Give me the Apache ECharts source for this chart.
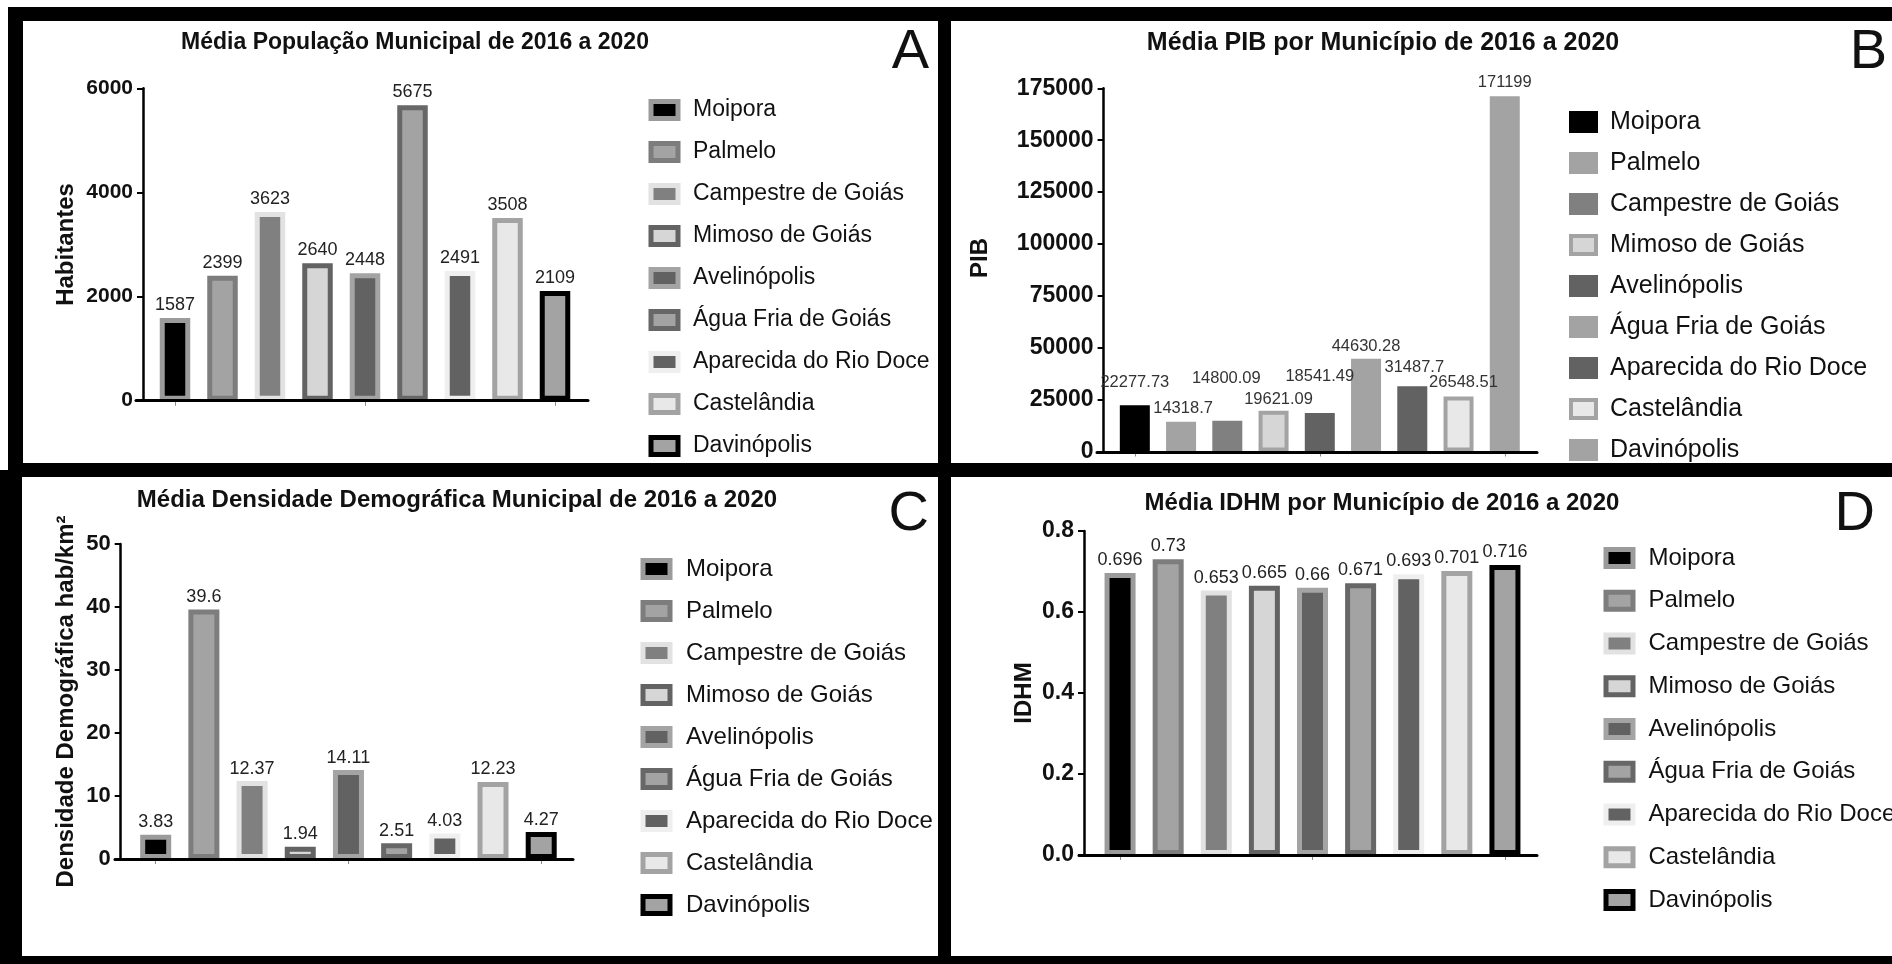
<!DOCTYPE html>
<html lang="pt-BR">
<head>
<meta charset="utf-8">
<title>Indicadores municipais 2016–2020</title>
<script src="https://cdn.jsdelivr.net/npm/echarts@6/dist/echarts.min.js"></script>
<style>
  html, body { margin: 0; padding: 0; background: #000; width: 1892px; height: 964px; overflow: hidden; }
  .painel { position: absolute; background: #fff; }
  #margemTopo { position: absolute; left: 0; top: 0; width: 1892px; height: 7px; background: #fff; }
  #margemEsq { position: absolute; left: 0; top: 0; width: 8px; height: 470px; background: #fff; }
</style>
</head>
<body>
<div id="margemTopo"></div>
<div id="margemEsq"></div>
<div id="pA" class="painel" style="left:23px;top:21px;width:915px;height:442px"></div>
<div id="pB" class="painel" style="left:951px;top:21px;width:941px;height:442px"></div>
<div id="pC" class="painel" style="left:22px;top:477px;width:916px;height:479px"></div>
<div id="pD" class="painel" style="left:951px;top:477px;width:941px;height:479px"></div>
<script>
// Municípios e médias 2016–2020
const municipios = ['Moipora', 'Palmelo', 'Campestre de Goiás', 'Mimoso de Goiás', 'Avelinópolis',
  'Água Fria de Goiás', 'Aparecida do Rio Doce', 'Castelândia', 'Davinópolis'];
const populacao = [1587, 2399, 3623, 2640, 2448, 5675, 2491, 3508, 2109];
const pib = [22277.73, 14318.7, 14800.09, 19621.09, 18541.49, 44630.28, 31487.7, 26548.51, 171199];
const densidade = [3.83, 39.6, 12.37, 1.94, 14.11, 2.51, 4.03, 12.23, 4.27];
const idhm = [0.696, 0.73, 0.653, 0.665, 0.66, 0.671, 0.693, 0.701, 0.716];

// Marcas do eixo Y de cada gráfico
const ticksPopulacao = [0, 2000, 4000, 6000];
const ticksPib = [0, 25000, 50000, 75000, 100000, 125000, 150000, 175000];
const ticksDensidade = [0, 10, 20, 30, 40, 50];
const ticksIdhm = [0, 0.2, 0.4, 0.6, 0.8];

const FONTE = '"Liberation Sans", Arial, Helvetica, sans-serif';

// Paletas em tons de cinza: [preenchimento, borda]
const paletaPadrao = [
  ['#000000', '#9b9b9b'], ['#a3a3a3', '#7d7d7d'], ['#808080', '#e2e2e2'],
  ['#d6d6d6', '#636363'], ['#626262', '#a4a4a4'], ['#a3a3a3', '#676767'],
  ['#626262', '#efefef'], ['#e8e8e8', '#a3a3a3'], ['#a3a3a3', '#000000']
];
const paletaPib = [
  ['#000000', '#000000'], ['#a3a3a3', '#a3a3a3'], ['#808080', '#808080'],
  ['#d6d6d6', '#a3a3a3'], ['#626262', '#626262'], ['#a3a3a3', '#a3a3a3'],
  ['#626262', '#626262'], ['#e8e8e8', '#a3a3a3'], ['#a3a3a3', '#a3a3a3']
];
// deslocamento dos rótulos de valor no gráfico do PIB
const deslocPib = [[0, -9], [2, 0], [-1, -29], [5, 2], [0, -23], [0, 1], [2, -5], [5, 0], [0, 0]];

function painel(cfg) {
  const chart = echarts.init(document.getElementById(cfg.el), null, { renderer: 'canvas' });
  const t = cfg.ticks;
  const series = municipios.map((nome, i) => ({
    name: nome,
    type: 'bar',
    xAxisIndex: 0,
    yAxisIndex: 0,
    barWidth: cfg.barWidth,
    barGap: '-100%',
    itemStyle: { color: cfg.cores[i][0], borderColor: cfg.cores[i][1], borderWidth: cfg.borda },
    label: {
      show: true, position: 'top', distance: cfg.labelDist,
      fontSize: cfg.labelSize, color: cfg.labelCor, fontFamily: FONTE,
      offset: cfg.desloc ? cfg.desloc[i] : [0, 0],
      formatter: p => String(p.value)
    },
    data: cfg.valores.map((v, j) => (j === i ? v : '-'))
  }));

  chart.setOption({
    animation: false,
    backgroundColor: '#fff',
    title: [
      { text: cfg.titulo, left: cfg.tituloX, top: cfg.tituloY, padding: 0,
        textAlign: 'center', textVerticalAlign: 'top',
        textStyle: { fontSize: cfg.tituloSize, fontWeight: 'bold', color: '#111', fontFamily: FONTE } },
      { text: cfg.letra, left: cfg.letraX, top: cfg.letraY, padding: 0,
        textAlign: 'right', textVerticalAlign: 'top',
        textStyle: { fontSize: 56, fontWeight: 'normal', color: '#111', fontFamily: FONTE } }
    ],
    legend: {
      orient: 'vertical', left: cfg.leg.left, top: cfg.leg.top, height: 700, padding: 0,
      itemGap: cfg.leg.gap, itemWidth: cfg.leg.w, itemHeight: cfg.leg.h,
      icon: 'rect', selectedMode: false,
      itemStyle: { borderWidth: cfg.borda },
      textStyle: { fontSize: cfg.leg.size, color: '#111', fontFamily: FONTE, lineHeight: 26,
        padding: [0, 0, 0, cfg.leg.pad] },
      data: municipios
    },
    grid: [
      Object.assign({ containLabel: false }, cfg.grid),
      { containLabel: false, left: cfg.linha.left, width: cfg.linha.width, top: cfg.grid.top, height: cfg.grid.height }
    ],
    xAxis: [
      { type: 'category', gridIndex: 0, data: municipios,
        axisLine: { show: false },
        axisTick: { show: true, alignWithLabel: true, length: 5, lineStyle: { color: '#8a8a8a', width: 1 } },
        axisLabel: { show: false }, splitLine: { show: false } },
      { type: 'value', gridIndex: 1, min: 0, max: 1, z: 5,
        axisLine: { show: true, lineStyle: { color: '#000', width: 3 } },
        axisTick: { show: false }, axisLabel: { show: false }, splitLine: { show: false } }
    ],
    yAxis: [
      { type: 'value', gridIndex: 0, min: t[0], max: t[t.length - 1], interval: t[1] - t[0],
        offset: cfg.yOffset,
        axisLine: { show: true, lineStyle: { color: '#000', width: 2.5 } },
        axisTick: { show: true, length: 6, lineStyle: { color: '#000', width: 2 } },
        axisLabel: { fontSize: cfg.tickSize, fontWeight: 'bold', color: '#111', margin: 10,
          fontFamily: FONTE, formatter: cfg.tickFmt || (v => String(v)) },
        splitLine: { show: false },
        name: cfg.nome, nameLocation: 'middle', nameGap: cfg.nameGap, nameRotate: 90,
        nameTextStyle: { fontSize: 24, fontWeight: 'bold', color: '#111', fontFamily: FONTE,
          padding: cfg.namePad || 0 } },
      { type: 'value', gridIndex: 1, show: false, min: 0, max: 1 }
    ],
    series: series
  });
}

painel({
  el: 'pA', titulo: 'Média População Municipal de 2016 a 2020', tituloX: 392, tituloY: 10, tituloSize: 23,
  letra: 'A', letraX: 906, letraY: 4,
  valores: populacao, ticks: ticksPopulacao, tickSize: 21,
  grid: { left: 128.25, top: 67.3, width: 427.5, height: 312.4 }, linha: { left: 113, width: 452 },
  yOffset: 8.25, nome: 'Habitantes', nameGap: 65,
  barWidth: 30.5, borda: 5, cores: paletaPadrao, labelSize: 18, labelDist: 4, labelCor: '#222',
  leg: { left: 625.5, top: 76, gap: 16, w: 27, h: 17, size: 23, pad: 10 }
});

painel({
  el: 'pB', titulo: 'Média PIB por Município de 2016 a 2020', tituloX: 432, tituloY: 9.5, tituloSize: 25,
  letra: 'B', letraX: 936, letraY: 4,
  valores: pib, ticks: ticksPib, tickSize: 23,
  grid: { left: 160.7, top: 67.3, width: 416.2, height: 364.4 }, linha: { left: 146, width: 440 },
  yOffset: 8.1, nome: 'PIB', nameGap: 111, namePad: [0, 0, 0, 24],
  barWidth: 30, borda: 4, cores: paletaPib, labelSize: 16.5, labelDist: 5, labelCor: '#333',
  desloc: deslocPib,
  leg: { left: 618, top: 88, gap: 15, w: 25, h: 18, size: 25, pad: 9 }
});

painel({
  el: 'pC', titulo: 'Média Densidade Demográfica Municipal de 2016 a 2020', tituloX: 435, tituloY: 11.5, tituloSize: 24,
  letra: 'C', letraX: 907, letraY: 10,
  valores: densidade, ticks: ticksDensidade, tickSize: 22,
  grid: { left: 109.6, top: 67, width: 433.7, height: 315 }, linha: { left: 93, width: 458 },
  yOffset: 10.9, nome: 'Densidade Demográfica hab/km²', nameGap: 42,
  barWidth: 31, borda: 5, cores: paletaPadrao, labelSize: 18, labelDist: 3.5, labelCor: '#222',
  leg: { left: 618.5, top: 79, gap: 16, w: 27, h: 17, size: 24, pad: 11 }
});

painel({
  el: 'pD', titulo: 'Média IDHM por Município de 2016 a 2020', tituloX: 431, tituloY: 14.5, tituloSize: 24,
  letra: 'D', letraX: 924, letraY: 10,
  valores: idhm, ticks: ticksIdhm, tickSize: 23, tickFmt: v => v.toFixed(1),
  grid: { left: 145, top: 54, width: 433, height: 324 }, linha: { left: 128, width: 458 },
  yOffset: 12, nome: 'IDHM', nameGap: 48,
  barWidth: 31, borda: 5, cores: paletaPadrao, labelSize: 18, labelDist: 4, labelCor: '#222',
  leg: { left: 652.5, top: 68, gap: 16.75, w: 27, h: 17, size: 24, pad: 10.5 }
});
</script>
</body>
</html>
